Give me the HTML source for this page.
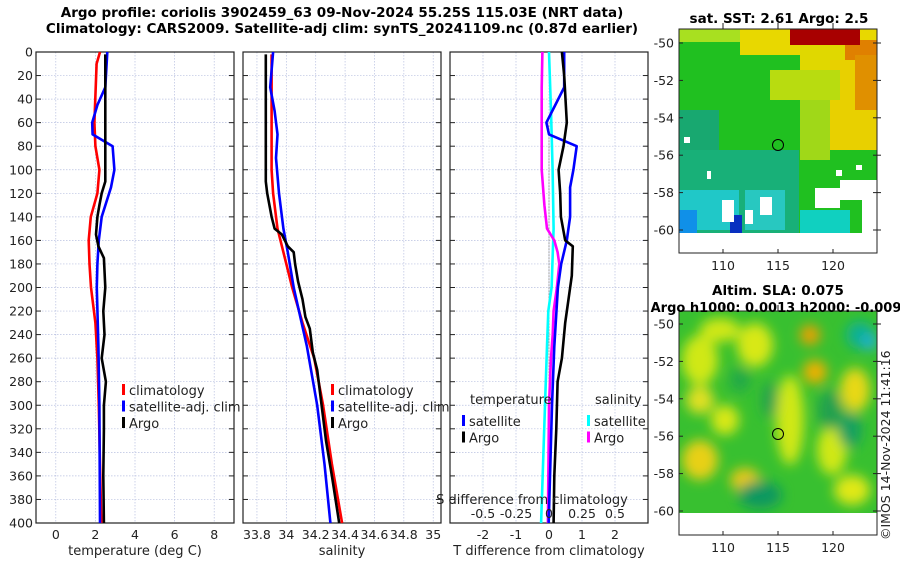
<!DOCTYPE html>
<html><head><meta charset="utf-8">
<style>
body{margin:0;background:#fff;}
svg{display:block;font-family:"DejaVu Sans","Liberation Sans",sans-serif;}
.t{font-size:12.5px;fill:#222;}
.b{font-size:13.5px;font-weight:bold;fill:#000;}
</style></head>
<body>
<svg id="c" width="900" height="580" viewBox="0 0 900 580">
<defs>
<filter id="bl" x="-20%" y="-20%" width="140%" height="140%"><feGaussianBlur stdDeviation="6"/></filter>
<clipPath id="cm1"><rect x="679" y="29" width="198" height="204"/></clipPath>
<clipPath id="cm2"><rect x="679" y="311" width="198" height="202"/></clipPath>
</defs>
<text class="b" x="342" y="17" text-anchor="middle">Argo profile: coriolis 3902459_63 09-Nov-2024 55.25S 115.03E (NRT data)</text>
<text class="b" x="342" y="33" text-anchor="middle">Climatology: CARS2009. Satellite-adj clim: synTS_20241109.nc (0.87d earlier)</text>

<!-- SST map -->
<g>
<g clip-path="url(#cm1)">
<rect x="679" y="29" width="198" height="204" fill="#20c020"/>
<rect x="670" y="20" width="80" height="22" fill="#a8e020"/>
<rect x="740" y="20" width="145" height="35" fill="#e8d800"/>
<rect x="800" y="40" width="85" height="40" fill="#e0d800"/>
<rect x="830" y="60" width="55" height="90" fill="#e8d000"/>
<rect x="770" y="70" width="70" height="30" fill="#b8dc10"/>
<rect x="800" y="100" width="30" height="60" fill="#a0d818"/>
<rect x="845" y="40" width="40" height="20" fill="#e08000"/>
<rect x="855" y="55" width="30" height="55" fill="#e09000"/>
<rect x="790" y="22" width="70" height="23" fill="#a80000"/>
<rect x="679" y="110" width="40" height="120" fill="#18a870"/>
<rect x="679" y="150" width="120" height="90" fill="#18b078"/>
<rect x="679" y="190" width="60" height="40" fill="#20c8c8"/>
<rect x="745" y="190" width="40" height="40" fill="#28c8c0"/>
<rect x="800" y="210" width="50" height="25" fill="#10d0c0"/>
<rect x="679" y="210" width="18" height="25" fill="#1090e8"/>
<rect x="730" y="215" width="12" height="18" fill="#0830c0"/>
<rect x="840" y="180" width="38" height="20" fill="#fff"/>
<rect x="862" y="200" width="16" height="35" fill="#fff"/>
<rect x="815" y="188" width="25" height="20" fill="#fff"/>
<rect x="760" y="197" width="12" height="18" fill="#fff"/>
<rect x="722" y="200" width="12" height="22" fill="#fff"/>
<rect x="745" y="210" width="8" height="14" fill="#fff"/>
<rect x="679" y="233" width="198" height="25" fill="#fff"/>
<rect x="684" y="137" width="6" height="6" fill="#fff"/>
<rect x="707" y="171" width="4" height="8" fill="#fff"/>
<rect x="836" y="170" width="6" height="6" fill="#fff"/>
<rect x="856" y="165" width="6" height="5" fill="#fff"/>
</g>
<rect x="679" y="29" width="198" height="224" fill="none" stroke="#222" stroke-width="1"/>
<circle cx="778" cy="145" r="5.5" fill="none" stroke="#000" stroke-width="1"/>
<text class="b" x="779" y="23" text-anchor="middle">sat. SST: 2.61 Argo: 2.5</text>
</g>

<!-- SLA map -->
<g>
<g clip-path="url(#cm2)">
<rect x="679" y="311" width="198" height="202" fill="#38c030"/>
<g filter="url(#bl)">
<ellipse cx="700" cy="360" rx="18" ry="25" fill="#d0e818"/>
<ellipse cx="755" cy="345" rx="18" ry="22" fill="#d8e818"/>
<ellipse cx="790" cy="420" rx="14" ry="45" fill="#d0e818"/>
<ellipse cx="810" cy="335" rx="10" ry="10" fill="#f0a000"/>
<ellipse cx="815" cy="372" rx="12" ry="12" fill="#f0b000"/>
<ellipse cx="855" cy="390" rx="15" ry="22" fill="#e8d818"/>
<ellipse cx="860" cy="335" rx="14" ry="14" fill="#10b090"/>
<ellipse cx="870" cy="342" rx="7" ry="8" fill="#20b0e0"/>
<ellipse cx="700" cy="460" rx="18" ry="20" fill="#e8d018"/>
<ellipse cx="745" cy="480" rx="15" ry="12" fill="#e8c818"/>
<ellipse cx="852" cy="490" rx="18" ry="15" fill="#e0e818"/>
<ellipse cx="725" cy="420" rx="14" ry="15" fill="#d8e818"/>
<ellipse cx="832" cy="450" rx="15" ry="25" fill="#d0e818"/>
<ellipse cx="720" cy="330" rx="20" ry="12" fill="#d0e818"/>
<ellipse cx="700" cy="400" rx="14" ry="14" fill="#e0e020"/>
<ellipse cx="760" cy="495" rx="22" ry="14" fill="#109860"/>
<ellipse cx="850" cy="430" rx="12" ry="18" fill="#18a060"/>
<ellipse cx="770" cy="400" rx="8" ry="18" fill="#20a050"/>
<ellipse cx="830" cy="410" rx="12" ry="20" fill="#20a050"/>
<ellipse cx="740" cy="380" rx="10" ry="12" fill="#20a848"/>
</g>
<rect x="679" y="513" width="198" height="25" fill="#fff"/>
</g>
<rect x="679" y="311" width="198" height="224" fill="none" stroke="#222" stroke-width="1"/>
<circle cx="778" cy="434" r="5.5" fill="none" stroke="#000" stroke-width="1"/>
<text class="b" x="778" y="295" text-anchor="middle">Altim. SLA: 0.075</text>
<text class="b" x="776" y="312" text-anchor="middle" style="font-size:13px">Argo h1000: 0.0013 h2000: -0.009</text>
</g>
<text class="t" transform="translate(890,540) rotate(-90)">©IMOS 14-Nov-2024 11:41:16</text>
</svg>
<script>
// ---- data ----
const depthTClim = [0,10,60,80,100,120,140,160,180,200,230,260,300,350,400];
const tempClim   = [2.23,2.06,1.95,2.0,2.2,2.1,1.77,1.66,1.7,1.78,2.0,2.1,2.17,2.23,2.3];
const depthTSat  = [0,30,45,60,70,80,100,115,140,160,180,200,250,300,400];
const tempSat    = [2.6,2.5,2.1,1.84,1.86,2.87,2.96,2.79,2.32,2.17,2.1,2.07,2.15,2.2,2.23];
const depthTArgo = [2,110,120,130,140,155,165,175,200,220,240,260,280,300,320,360,400];
const tempArgo   = [2.5,2.5,2.32,2.2,2.1,2.03,2.15,2.43,2.5,2.4,2.46,2.32,2.53,2.43,2.43,2.4,2.43];
const depthSClim = [2,50,100,120,150,170,200,230,260,300,350,400];
const salClim    = [33.90,33.90,33.90,33.91,33.94,33.98,34.04,34.11,34.19,34.25,34.31,34.38];
const depthSSat  = [0,30,50,70,90,120,150,170,200,250,300,350,400];
const salSat     = [33.91,33.89,33.92,33.94,33.93,33.95,33.98,34.01,34.05,34.14,34.21,34.26,34.30];
const depthSArgo = [2,110,120,140,150,155,165,170,180,195,210,225,235,255,270,300,330,360,400];
const salArgo    = [33.86,33.86,33.87,33.90,33.92,33.97,34.01,34.05,34.06,34.08,34.11,34.13,34.16,34.18,34.21,34.24,34.27,34.31,34.36];
const depthDTArgo = [0,20,60,80,100,120,140,160,165,190,210,230,260,280,320,360,400];
const dTArgo      = [0.39,0.46,0.54,0.44,0.29,0.34,0.36,0.49,0.72,0.69,0.59,0.49,0.39,0.26,0.22,0.16,0.14];
const dTSat       = [0.46,0.46,0.19,-0.08,0,0.84,0.74,0.64,0.64,0.54,0.37,0.27,0.16,0.09,-0.01];
const depthDSArgo = [0,30,100,130,150,160,170,180,200,220,240,260,300,400];
const dSArgo      = [-0.05,-0.055,-0.055,-0.035,-0.015,0.04,0.065,0.078,0.06,0.035,0.028,0.015,0,-0.008];
const depthDSSat  = [0,50,100,150,200,220,250,300,400];
const dSSat       = [0.0,0.015,0.027,0.035,0.02,-0.005,-0.015,-0.03,-0.06];
const depthTicks = [0,20,40,60,80,100,120,140,160,180,200,220,240,260,280,300,320,340,360,380,400];
const tempTicks = [0,2,4,6,8];
const salTicks = [33.8,34,34.2,34.4,34.6,34.8,35];
const dTTicks = [-2,-1,0,1,2];
const dSTicks = [-0.5,-0.25,0,0.25,0.5];
const dSTickLabels = ['-0.5','-0.25','0','0.25','0.5'];
const latTicks = [-50,-52,-54,-56,-58,-60];
const lonTicks = [110,115,120];

const NS='http://www.w3.org/2000/svg';
const svg=document.getElementById('c');
function el(tag,attrs,parent){const e=document.createElementNS(NS,tag);for(const k in attrs)e.setAttribute(k,attrs[k]);(parent||svg).appendChild(e);return e;}
const top0=52, bot0=523;
const yD=d=>top0+(d/400)*(bot0-top0);
function lin(d0,d1,p0,p1){return v=>p0+(v-d0)/(d1-d0)*(p1-p0);}

function panel(name,x0,x1,xs,ticks,labels,showY,xlabel){
  const g=el('g',{});
  
  
  ticks.forEach(t=>{el('line',{x1:xs(t),x2:xs(t),y1:top0,y2:bot0,stroke:'#b8c0e0','stroke-width':0.7,'stroke-dasharray':'1.5,1.5'},g);});
  depthTicks.forEach(d=>{el('line',{x1:x0,x2:x1,y1:yD(d),y2:yD(d),stroke:'#b8c0e0','stroke-width':0.7,'stroke-dasharray':'1.5,1.5'},g);
    el('line',{x1:x0,x2:x0+5,y1:yD(d),y2:yD(d),stroke:'#222'},g);
    el('line',{x1:x1-5,x2:x1,y1:yD(d),y2:yD(d),stroke:'#222'},g);
    if(showY){const t=el('text',{x:x0-3,y:yD(d)+4.5,'text-anchor':'end',class:'t'},g);t.textContent=d;
      
      }
  });
  ticks.forEach((t,i)=>{const tx=el('text',{x:xs(t),y:bot0+16,'text-anchor':'middle',class:'t'},g);tx.textContent=labels[i];
    
    });
  const xl=el('text',{x:(x0+x1)/2,y:bot0+32,'text-anchor':'middle',class:'t',style:'font-size:13px'},g);xl.textContent=xlabel;
  
  
  el('rect',{x:x0,y:top0,width:x1-x0,height:bot0-top0,fill:'none',stroke:'#222','stroke-width':1.2},g);
  return g;
}
function line(g,name,xs,vals,deps,color){
  const p=el('polyline',{points:vals.map((v,i)=>xs(v).toFixed(1)+','+yD(deps[i]).toFixed(1)).join(' '),fill:'none',stroke:color,'stroke-width':2.6,'stroke-linejoin':'round'},g);
  
  
}
function legend(g,x,y,items){
  items.forEach((it,i)=>{el('rect',{x:x,y:y+i*16.5-6,width:3,height:11,fill:it[1]},g);
    const t=el('text',{x:x+7,y:y+i*16.5+5,class:'t',style:'font-size:13px'},g);t.textContent=it[0];
    
    });
}
// panel 1
const xT=lin(-1,9,36,234);
const g1=panel('temperature-panel',36,234,xT,tempTicks,tempTicks.map(String),true,'temperature (deg C)');
line(g1,'temp-climatology-line',xT,tempClim,depthTClim,'#ff0000');
line(g1,'temp-satellite-line',xT,tempSat,depthTSat,'#0000ff');
line(g1,'temp-argo-line',xT,tempArgo,depthTArgo,'#000');
legend(g1,122,390,[['climatology','#ff0000'],['satellite-adj. clim','#0000ff'],['Argo','#000']]);
// panel 2
const xS=lin(33.705,35.053,243,441);
const g2=panel('salinity-panel',243,441,xS,salTicks,salTicks.map(String),false,'salinity');
line(g2,'sal-climatology-line',xS,salClim,depthSClim,'#ff0000');
line(g2,'sal-satellite-line',xS,salSat,depthSSat,'#0000ff');
line(g2,'sal-argo-line',xS,salArgo,depthSArgo,'#000');
legend(g2,331,390,[['climatology','#ff0000'],['satellite-adj. clim','#0000ff'],['Argo','#000']]);
// panel 3
const xDT=lin(-3,3,450,648), xDS=lin(-0.75,0.75,450,648);
const g3=panel('difference-panel',450,648,xDT,dTTicks,dTTicks.map(String),false,'T difference from climatology');
el('line',{x1:xDT(0),x2:xDT(0),y1:yD(60),y2:bot0,stroke:'#666','stroke-width':1,'stroke-dasharray':'1,2'},g3);
line(g3,'dsal-satellite-line',xDS,dSSat,depthDSSat,'#00ffff');
line(g3,'dsal-argo-line',xDS,dSArgo,depthDSArgo,'#ff00ff');
line(g3,'dtemp-satellite-line',xDT,dTSat,depthTSat,'#0000ff');
line(g3,'dtemp-argo-line',xDT,dTArgo,depthDTArgo,'#000');
let h=el('text',{x:470,y:404,class:'t',style:'font-size:13px'},g3);h.textContent='temperature';


h=el('text',{x:595,y:404,class:'t',style:'font-size:13px'},g3);h.textContent='salinity';


legend(g3,462,421,[['satellite','#0000ff'],['Argo','#000']]);
legend(g3,587,421,[['satellite','#00ffff'],['Argo','#ff00ff']]);
h=el('text',{x:532,y:504,'text-anchor':'middle',class:'t',style:'font-size:13px'},g3);h.textContent='S difference from climatology';


dSTicks.forEach((t,i)=>{const tx=el('text',{x:xDS(t),y:518,'text-anchor':'middle',class:'t'},g3);tx.textContent=dSTickLabels[i];
  
  });
// map axes
function mapAxes(name,y0,yLat50,yLat60,ybot){
  const g=el('g',{});
  
  
  const yl=lin(-50,-60,yLat50,yLat60), xl=lin(106,124,679,877);
  latTicks.forEach(l=>{el('line',{x1:679,x2:683,y1:yl(l),y2:yl(l),stroke:'#222'},g);el('line',{x1:873,x2:881,y1:yl(l),y2:yl(l),stroke:'#222'},g);
    const t=el('text',{x:674,y:yl(l)+4.5,'text-anchor':'end',class:'t'},g);t.textContent=l;
    
    });
  lonTicks.forEach(l=>{el('line',{x1:xl(l),x2:xl(l),y1:ybot,y2:ybot-4,stroke:'#222'},g);el('line',{x1:xl(l),x2:xl(l),y1:y0,y2:y0-6,stroke:'#222'},g);
    const t=el('text',{x:xl(l),y:ybot+17,'text-anchor':'middle',class:'t'},g);t.textContent=l;
    
    });
}
mapAxes('sst-map-axes',29,43,230,253);
mapAxes('sla-map-axes',311,324,511,535);
</script>
</body></html>
